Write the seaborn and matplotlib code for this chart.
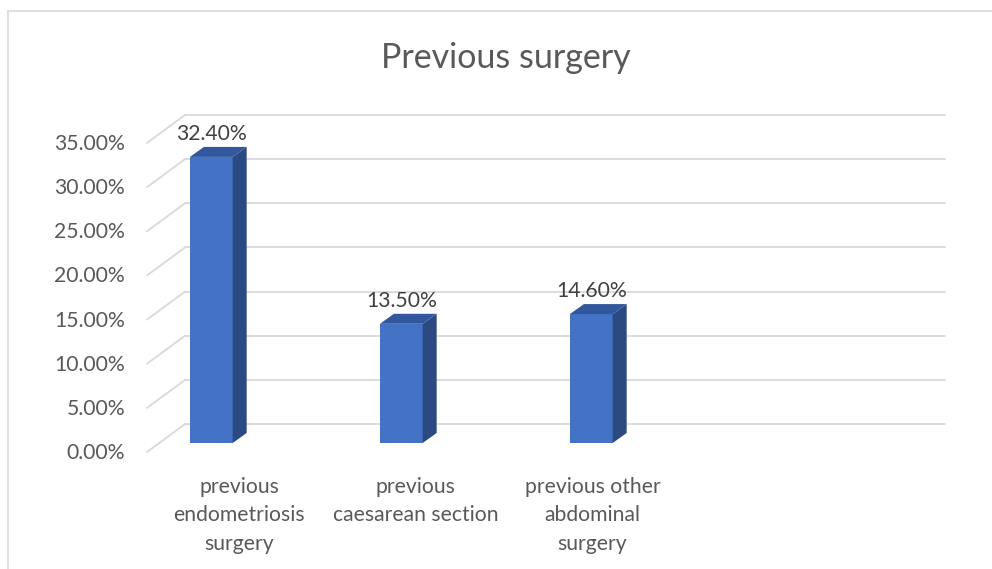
import matplotlib
matplotlib.use("Agg")
import matplotlib.pyplot as plt
import seaborn as sns
import pandas as pd
from matplotlib.patches import Polygon
from matplotlib.lines import Line2D

# ---- data -------------------------------------------------------------
categories = [
    "previous\nendometriosis\nsurgery",
    "previous\ncaesarean section",
    "previous other\nabdominal\nsurgery",
]
values = [32.4, 13.5, 14.6]
value_labels = ["32.40%", "13.50%", "14.60%"]
y_ticks = [0, 5, 10, 15, 20, 25, 30, 35]
y_tick_labels = ["0.00%", "5.00%", "10.00%", "15.00%", "20.00%", "25.00%", "30.00%", "35.00%"]
title = "Previous surgery"

# ---- style ------------------------------------------------------------
sns.set_theme(style="white")
plt.rcParams["font.family"] = ["Lato", "DejaVu Sans"]
TEXT = "#595959"
GRID = "#D9D9D9"
FRONT = "#4472C4"
SIDE = "#2B4A82"
TOP = "#31579C"
FS = 15.2

W, H = 992, 569
fig = plt.figure(figsize=(W / 100, H / 100), dpi=100)
fig.patch.set_facecolor("white")

# Plane through the bars: category 0 at x=211 px, value 0 at y=443 px (from top)
x0_px, pitch = 211.3, 190.0
base_px, per_pct = 443.0, 8.83
n_slots = 4
xlim = (-0.5, n_slots - 0.5)
ylim = (0, 35)
left = x0_px + xlim[0] * pitch
right = x0_px + xlim[1] * pitch
top = base_px - ylim[1] * per_pct
ax = fig.add_axes([left / W, 1 - base_px / H, (right - left) / W, (base_px - top) / H])
ax.patch.set_visible(False)


def px(dx, dy):
    """pixel offset (x right, y up) -> data offset"""
    return dx / pitch, dy / per_pct


df = pd.DataFrame({"category": categories, "value": values})
sns.barplot(data=df, x="category", y="value", width=0.225, color=FRONT,
            saturation=1, ax=ax, zorder=3, linewidth=0)

ax.set_xlim(*xlim)
ax.set_ylim(*ylim)
ax.set_xticks([])
ax.set_yticks([])
ax.set_xlabel("")
ax.set_ylabel("")
for s in ax.spines.values():
    s.set_visible(False)

# ---- walls: back gridlines and side-wall diagonals --------------------
wall_x = (-0.275, 3.725)
bdx, bdy = px(26, 19)    # back wall offset
fdx, fdy = px(-12, -9)   # front edge offset
for t in y_ticks:
    ax.add_line(Line2D([wall_x[0] + bdx, wall_x[1] + bdx], [t + bdy, t + bdy],
                       color=GRID, lw=1.3, zorder=1, clip_on=False))
    ax.add_line(Line2D([wall_x[0] + fdx, wall_x[0] + bdx], [t + fdy, t + bdy],
                       color=GRID, lw=1.3, zorder=1, clip_on=False))

# ---- 3D faces of the bars and value labels ----------------------------
ddx, ddy = px(14, 10)
bars = list(ax.patches[:len(values)])
for patch, lab in zip(bars, value_labels):
    xa = patch.get_x()
    xb = xa + patch.get_width()
    h = patch.get_height()
    side = Polygon([(xb, 0), (xb + ddx, ddy), (xb + ddx, h + ddy), (xb, h)],
                   closed=True, facecolor=SIDE, edgecolor="none", zorder=3, clip_on=False)
    lid = Polygon([(xa, h), (xb, h), (xb + ddx, h + ddy), (xa + ddx, h + ddy)],
                  closed=True, facecolor=TOP, edgecolor="none", zorder=3, clip_on=False)
    ax.add_patch(side)
    ax.add_patch(lid)
    ax.text(xa + patch.get_width() / 2, h + 23 / per_pct, lab,
            ha="center", va="center", fontsize=FS, color="#404040",
            zorder=5, clip_on=False)

# ---- value axis labels ------------------------------------------------
for t, lab in zip(y_ticks, y_tick_labels):
    ax.text(-0.454, t - 10 / per_pct, lab, ha="right", va="center",
            fontsize=FS, color=TEXT, clip_on=False)

# ---- category labels --------------------------------------------------
label_top = -(477 - base_px) / per_pct
for i, lab in enumerate(categories):
    ax.text(0.146 + 0.93 * i, label_top, lab, ha="center", va="top",
            fontsize=FS, color=TEXT, linespacing=1.52, clip_on=False)

# ---- title ------------------------------------------------------------
fig.text(506 / W, 1 - 58 / H, title, ha="center", va="center",
         fontsize=24.5, color=TEXT)

# ---- chart frame ------------------------------------------------------
fig.add_artist(Line2D([8 / W, 1], [1 - 11 / H, 1 - 11 / H], color=GRID, lw=1.2,
                      transform=fig.transFigure))
fig.add_artist(Line2D([8 / W, 8 / W], [0, 1 - 11 / H], color=GRID, lw=1.2,
                      transform=fig.transFigure))

fig.savefig("out.png", dpi=100, facecolor="white")
